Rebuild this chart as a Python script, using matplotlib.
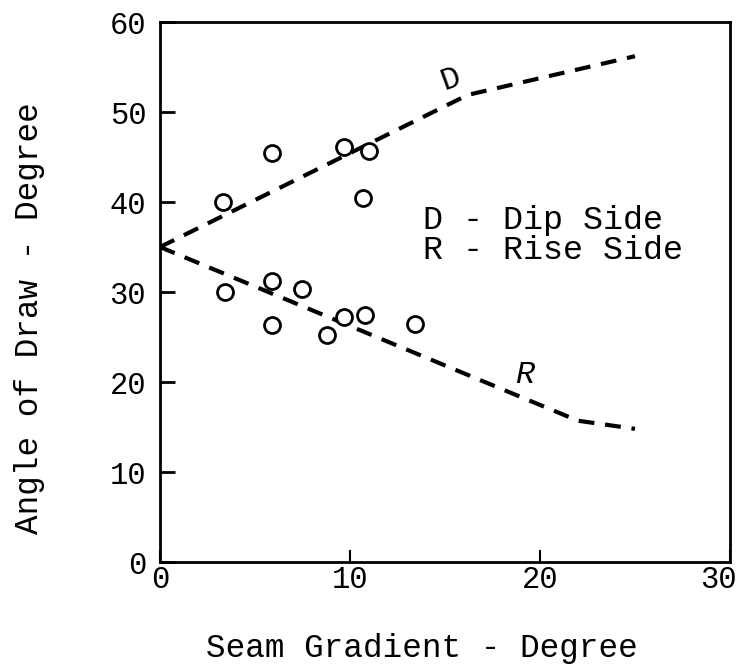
import numpy as np
import matplotlib.pyplot as plt
import matplotlib.transforms as mtransforms

plt.rcParams['font.family'] = ['Liberation Mono', 'DejaVu Sans Mono']

# measured points (seam gradient, angle of draw)
dip_x = [3.3, 5.9, 9.7, 11.0, 10.7]
dip_y = [40.0, 45.4, 46.1, 45.7, 40.5]
rise_x = [3.4, 5.9, 7.5, 5.9, 8.8, 9.7, 10.8, 13.4]
rise_y = [30.0, 31.2, 30.3, 26.3, 25.2, 27.2, 27.4, 26.5]

# fitted trend lines
d_line_x = [0, 16.2, 25]
d_line_y = [35, 51.9, 56.2]
r_line_x = [0, 22.0, 25]
r_line_y = [35, 15.7, 14.8]

x_ticks = [0, 10, 20, 30]
y_ticks = [0, 10, 20, 30, 40, 50, 60]

fig = plt.figure(figsize=(7.41, 6.71), dpi=100)
ax = fig.add_axes([0.2159, 0.1624, 0.7692, 0.8048])

dash = (0, (3.8, 2.6))
ax.plot(d_line_x, d_line_y, color='black', lw=3, linestyle=dash)
ax.plot(r_line_x, r_line_y, color='black', lw=3, linestyle=dash)
ax.plot(dip_x, dip_y, 'o', mfc='white', mec='black', ms=11.5, mew=2)
ax.plot(rise_x, rise_y, 'o', mfc='white', mec='black', ms=11.5, mew=2)

ax.text(15.3, 53.6, 'D', fontsize=23, rotation=20, ha='center', va='center')
ax.text(19.2, 20.8, 'R', fontsize=23, style='italic', ha='center', va='center')

ax.text(13.85, 38.0, 'D - Dip Side', fontsize=24, va='center')
ax.text(13.85, 34.6, 'R - Rise Side', fontsize=24, va='center')

ax.set_xlim(0, 30)
ax.set_ylim(0, 60)
ax.set_xticks(x_ticks)
ax.set_yticks(y_ticks)
ax.tick_params(axis='y', direction='in', length=11, width=2, labelsize=22, pad=10)
ax.tick_params(axis='x', direction='in', length=9, width=1.5, labelsize=22, pad=2)
for s in ax.spines.values():
    s.set_linewidth(2)

# last x label sits a bit left of the right spine in the original
lbl = ax.get_xticklabels()[-1]
lbl.set_transform(lbl.get_transform() + mtransforms.ScaledTranslation(-12 / 100, 0, fig.dpi_scale_trans))

fig.text(30 / 741, 1 - 318 / 671, 'Angle of Draw - Degree', fontsize=23.5,
         rotation=90, ha='center', va='center')
fig.text(422 / 741, 1 - 648 / 671, 'Seam Gradient - Degree', fontsize=23.5,
         ha='center', va='center')

fig.savefig('out.png', dpi=100)
